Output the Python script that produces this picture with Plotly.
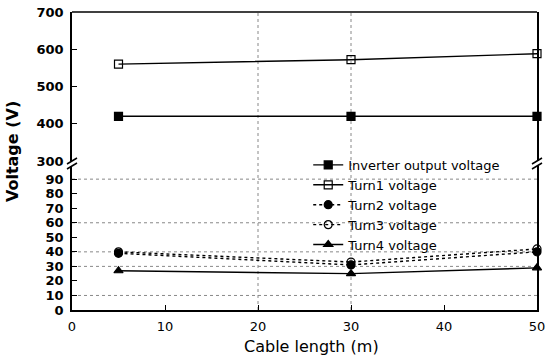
import plotly.graph_objects as go

# ---- data ----
cable_length = [5, 30, 50]
inverter_v = [420, 420, 420]
turn1_v = [560, 572, 588]
turn2_v = [39, 31, 40]
turn3_v = [40, 33, 42]
turn4_v = [27, 25, 29]

low_ticks = [0, 10, 20, 30, 40, 50, 60, 70, 80, 90]
high_ticks = [300, 400, 500, 600, 700]
x_ticks = [0, 10, 20, 30, 40, 50]
grid_low = [10, 30, 40, 60, 90]
grid_x = [20, 30]

FONT = "DejaVu Sans"
BLACK = "black"

fig = go.Figure()

def add(name, y, yaxis, symbol, dash):
    fig.add_trace(go.Scatter(
        x=cable_length, y=y, name=name, xaxis="x", yaxis=yaxis,
        mode="lines+markers", cliponaxis=False,
        line=dict(color=BLACK, width=1.4, dash=dash),
        marker=dict(symbol=symbol, size=8, color=BLACK,
                    line=dict(color=BLACK, width=1.2)),
    ))

add("Inverter output voltage", inverter_v, "y2", "square", "solid")
add("Turn1 voltage", turn1_v, "y2", "square-open", "solid")
add("Turn2 voltage", turn2_v, "y", "circle", "dot")
add("Turn3 voltage", turn3_v, "y", "circle-open", "dot")
add("Turn4 voltage", turn4_v, "y", "triangle-up", "solid")

shapes = []
for g in grid_low:
    shapes.append(dict(type="line", xref="x domain", yref="y", x0=0, x1=1, y0=g, y1=g,
                       line=dict(color="#888", width=1, dash="dot"), layer="below"))
for g in grid_x:
    shapes.append(dict(type="line", xref="x", yref="paper", x0=g, x1=g, y0=0, y1=1,
                       line=dict(color="#888", width=1, dash="dot"), layer="below"))
# top border
shapes.append(dict(type="line", xref="paper", yref="paper", x0=0, x1=1, y0=1, y1=1,
                   line=dict(color=BLACK, width=1.5)))
# axis-break marks
for xa in (0, 1):
    for off in (-2.5, 2.5):
        shapes.append(dict(type="line", xref="paper", yref="paper",
                           xsizemode="pixel", ysizemode="pixel",
                           xanchor=xa, yanchor=0.4916,
                           x0=-5, x1=5, y0=off - 3, y1=off + 3,
                           line=dict(color=BLACK, width=1.5)))

axis_common = dict(showline=True, linecolor=BLACK, linewidth=1.5, ticks="inside",
                   ticklen=5, tickcolor=BLACK, tickwidth=1.2, showgrid=False,
                   zeroline=False, automargin=False)

fig.update_layout(
    width=547, height=358,
    margin=dict(l=72, r=10, t=12, b=48),
    paper_bgcolor="white", plot_bgcolor="white",
    font=dict(family=FONT, color=BLACK, size=13),
    xaxis=dict(range=[0, 50], tickvals=x_ticks, anchor="y", mirror=False,
               ticklabelstandoff=3, tickfont=dict(size=13, family=FONT),
               **{**axis_common, "linewidth": 2}),
    yaxis=dict(range=[0, 99], domain=[0, 0.483], tickvals=low_ticks, anchor="x",
               mirror=True, ticklabelstandoff=4,
               tickfont=dict(size=13, family="DejaVu Sans", weight="bold"), **axis_common),
    yaxis2=dict(range=[300, 700], domain=[0.5, 1], tickvals=high_ticks, anchor="x",
                mirror=True, ticklabelstandoff=4,
                tickfont=dict(size=13, family="DejaVu Sans", weight="bold"), **axis_common),
    legend=dict(x=0.508, y=0.537, xanchor="left", yanchor="top",
                bgcolor="rgba(0,0,0,0)", borderwidth=0,
                font=dict(size=13, family=FONT), tracegroupgap=0),
    shapes=shapes,
    annotations=[
        dict(text="Voltage (V)", xref="paper", yref="paper", x=-0.129, y=0.53,
             textangle=-90, showarrow=False, xanchor="center", yanchor="middle",
             font=dict(size=16, family=FONT, weight="bold")),
        dict(text="Cable length (m)", xref="paper", yref="paper", x=0.514, y=-0.122,
             showarrow=False, xanchor="center", yanchor="middle",
             font=dict(size=16, family=FONT)),
    ],
    showlegend=True,
)

fig.write_html("out.html", config={"displayModeBar": False},
               post_script="document.body.style.margin='0';document.body.style.padding='0';")
